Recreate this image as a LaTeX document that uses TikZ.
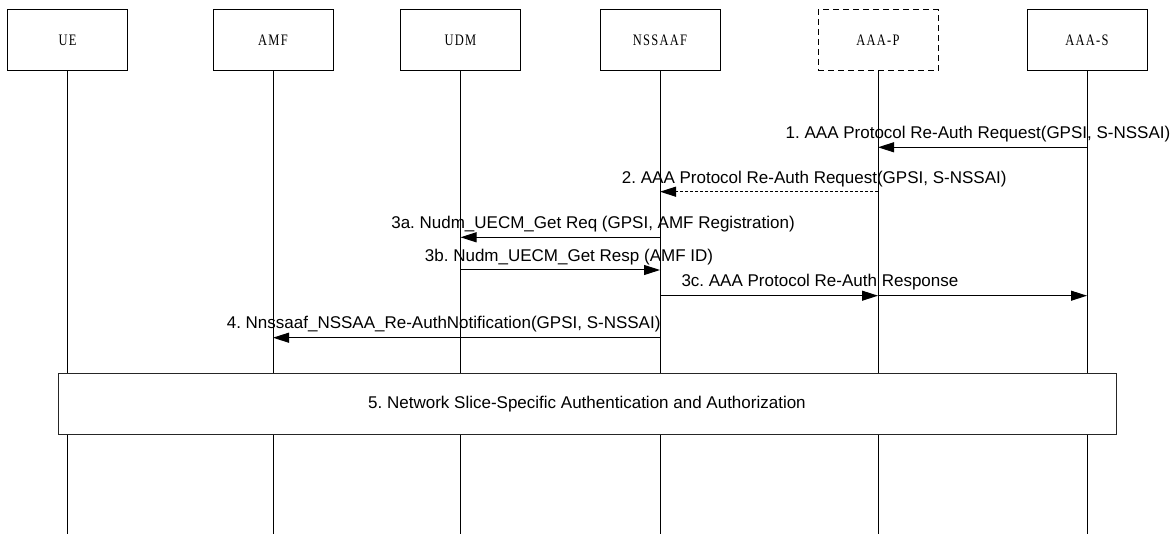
\documentclass[tikz,border=0pt]{standalone}
\usepackage{fontspec}
\setmainfont{Liberation Sans}
\newfontfamily\boxfont{Liberation Serif}[FakeStretch=0.78,LetterSpace=8]
\usetikzlibrary{arrows.meta,positioning,calc}
\frenchspacing

\begin{document}
\begin{tikzpicture}[x=1pt,y=-1pt,->,>={Triangle[length=16pt,width=10pt]},line width=1pt,
    entity node/.style={-,draw,minimum width=120pt,minimum height=61pt,inner sep=0pt,font=\boxfont\fontsize{16}{16}\selectfont},
    msg node/.style={anchor=base,inner sep=0pt,font=\fontsize{17}{17}\selectfont},
    step box/.style={draw=black!85,fill=white,minimum width=1058pt,minimum height=60pt,inner sep=0pt,font=\fontsize{17}{17}\selectfont}]

            \useasboundingbox (0,0) rectangle (1175,534);

            \foreach \name/\x/\txt in {ue/67.5/UE,amf/273/AMF,udm/460.5/UDM,nssaaf/660/NSSAAF,aaas/1087/AAA-S}{
                \node[entity node] (\name) at (\x,40.5) {\txt};
            }
            \node[entity node,dash pattern=on 6pt off 4pt] (aaap) at (878,40.5) {AAA-P};

            \coordinate (bottom) at (0,534);
            \foreach \name in {ue,amf,udm,nssaaf,aaap,aaas}{
                \draw[-] (\name.south) -- (\name |- bottom);
            }

            \coordinate (r1) at (0,147.3);
            \coordinate (r2) at (0,191.7);
            \coordinate (r3a) at (0,237.3);
            \coordinate (r3b) at (0,270);
            \coordinate (r3c) at (0,295.7);
            \coordinate (r4) at (0,337.7);

            \draw (aaas |- r1) -- (aaap |- r1);
            \draw[dash pattern=on 3pt off 2pt] (aaap |- r2) -- (nssaaf |- r2);
            \draw (nssaaf |- r3a) -- (udm |- r3a);
            \draw (udm |- r3b) -- (nssaaf |- r3b);
            \draw (nssaaf |- r3c) -- (aaap |- r3c);
            \draw (aaap |- r3c) -- (aaas |- r3c);
            \draw (nssaaf |- r4) -- (amf |- r4);

            \node[msg node] (m1) at (978,139) {1. AAA Protocol Re-Auth Request(GPSI, S-NSSAI)};
            \node[msg node,anchor=base east] (m2) at (1007,183.3) {2. AAA Protocol Re-Auth Request(GPSI, S-NSSAI)};
            \node[msg node] (m3a) at (593,229) {3a. Nudm\_UECM\_Get Req (GPSI, AMF Registration)};
            \node[msg node] (m3b) at (569,261.5) {3b. Nudm\_UECM\_Get Resp (AMF ID)};
            \node[msg node,anchor=base west] (m3c) at (681,287) {3c. AAA Protocol Re-Auth Response};
            \node[msg node,anchor=base east] (m4) at (661,329) {4. Nnssaaf\_NSSAA\_Re-AuthNotification(GPSI, S-NSSAI)};

            \node[step box] (nssaa) at (587,404) {5. Network Slice-Specific Authentication and Authorization};

\end{tikzpicture}
\end{document}
